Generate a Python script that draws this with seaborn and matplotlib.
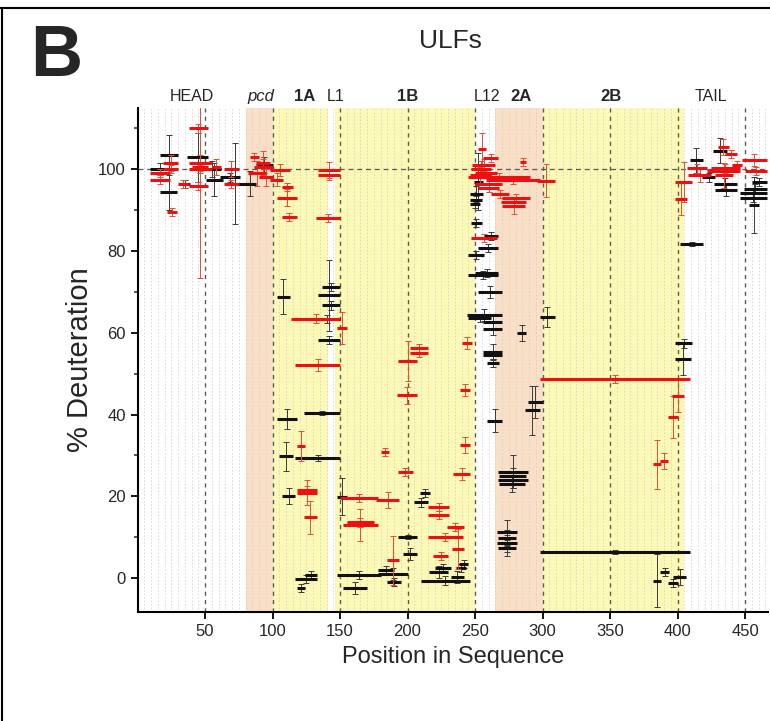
import matplotlib
matplotlib.use("Agg")
import matplotlib.pyplot as plt
from matplotlib.lines import Line2D
from matplotlib.ticker import MultipleLocator
import matplotlib.transforms as mtransforms
import numpy as np
import pandas as pd
import seaborn as sns

# ---------------- data ----------------
# black peptides: start, end, % deuteration, error
black_start = [9, 17, 17, 31, 37, 48, 51, 61, 65, 78, 88,
               103, 137, 134, 137, 130, 134, 123, 103, 105, 117, 107, 148,
               193, 197, 117, 124, 118, 148, 152, 178, 185, 178,
               209, 205, 210, 216, 232, 236, 238, 220,
               246, 246, 246, 247, 257, 252, 245, 250, 245, 252, 244, 245, 256, 256,
               281, 298, 256, 256, 259, 289, 287, 259, 249,
               267, 268, 267, 268, 266, 267, 266, 267,
               298, 398, 398, 382, 387, 393, 397,
               402, 409, 426, 427, 428, 418, 446, 449, 446, 453, 455]
black_end = [24, 30, 29, 39, 52, 62, 63, 76, 79, 88, 100,
             113, 150, 150, 150, 150, 150, 150, 118, 115, 150, 117, 155,
             207, 207, 133, 133, 124, 180, 170, 200, 195, 190,
             217, 215, 246, 230, 242, 243, 245, 232,
             256, 255, 254, 255, 267, 267, 257, 267, 267, 270, 270, 262, 270, 270,
             288, 309, 270, 270, 268, 300, 298, 270, 256,
             289, 288, 289, 287, 281, 280, 281, 280,
             409, 411, 410, 388, 394, 400, 406,
             419, 419, 437, 444, 444, 428, 466, 466, 466, 460, 466]
black_val = [100, 103.5, 94.5, 96.5, 103, 100, 97.5, 98, 96.5, 96.5, 101,
             68.8, 71.2, 69.2, 66.7, 63.3, 58.2, 40.4, 38.9, 29.8, 29.4, 20, 19.9,
             10, 5.8, -0.3, 0.7, -2.4, 0.7, -2.4, 1, -1, 2,
             20.9, 18.5, -0.6, 1.4, 0.2, 2.5, 3.4, 2.5,
             94, 92.5, 91.5, 86.8, 83.6, 80.7, 79, 74.6, 74.1, 70, 64.3, 63.6, 62.7, 61,
             60, 63.9, 55.3, 54.5, 52.6, 43.1, 41.1, 38.5, 97,
             26, 25, 24, 23, 11.2, 9.8, 8.5, 7.3,
             6.4, 57.4, 53.7, -0.6, 1.5, -1.2, 0.2,
             81.8, 102.2, 104.6, 96.3, 94.9, 98, 94.1, 95.3, 92.9, 91.2, 96.9]
black_err = [1.5, 5, 4.5, 1, 6, 2, 4, 1, 10, 3, 2,
             4.3, 1, 8.7, 1, 1, 1, 0.5, 2.5, 3.5, 0.8, 2, 4.5,
             0.5, 1.5, 1, 1, 1, 1, 1.5, 1.5, 1, 1,
             1, 1, 1, 1.5, 1.5, 1, 1, 1,
             2, 1, 1, 1, 1, 1, 1, 1, 1, 1.5, 1.5, 1, 1.5, 1.5,
             2, 2.5, 2, 1, 1, 4, 6, 2.8, 7,
             4, 2, 2, 2, 3, 2, 2, 2,
             0.5, 1, 4, 6.5, 1, 1, 2,
             0.5, 3, 3, 1.5, 1.5, 1, 1, 1, 1, 6.8, 1]

# red peptides: start, end, % deuteration, error
red_start = [9, 9, 19, 19, 22, 30, 38, 40, 38, 38, 38, 55, 64, 64,
             83, 82, 86, 90, 88, 98, 98, 107, 103, 107, 134, 134, 132,
             114, 148, 117, 193, 202, 202, 192, 118, 180, 193, 118, 118, 123,
             150, 177, 152, 155, 185, 239, 234, 215, 215, 229, 215, 233, 219, 240, 239,
             247, 248, 250, 246, 250, 252, 252, 256, 283, 245, 258, 296, 270, 269, 270,
             262, 247, 298,
             396, 393, 382, 387,
             398, 398, 407, 408, 422, 425, 428, 430, 435, 448, 450, 440]
red_end = [24, 24, 30, 30, 29, 38, 52, 52, 55, 55, 52, 62, 75, 75,
           90, 95, 100, 100, 98, 113, 108, 115, 118, 118, 150, 150, 150,
           150, 155, 150, 207, 215, 215, 207, 124, 186, 204, 133, 133, 133,
           178, 194, 178, 175, 194, 246, 246, 231, 231, 242, 241, 242, 230, 248, 246,
           262, 265, 266, 262, 270, 268, 258, 267, 288, 291, 298, 309, 291, 288, 287,
           275, 266, 409,
           405, 400, 388, 393,
           411, 407, 422, 425, 446, 446, 441, 438, 444, 466, 466, 448]
red_val = [97.5, 99, 101.5, 100, 89.5, 96.5, 110, 100.5, 101.5, 100, 96, 100.5, 100, 96.5,
           103, 99, 100.5, 98, 101.5, 99.9, 97.5, 95.7, 93.1, 88.3, 99.9, 98.5, 88,
           63.5, 61.2, 52.1, 53.1, 56.2, 55, 44.7, 32.3, 30.9, 26, 20.9, 21.5, 14.9,
           19.6, 19.1, 13, 13.6, 4.4, 32.5, 25.4, 17.4, 15.4, 12.5, 10.1, 7.1, 5.4, 57.5, 46,
           100, 101, 99, 98.5, 96.5, 95.5, 105, 102.7, 101.8, 98.1, 97.3, 97.2, 93, 92, 91,
           94, 83.1, 48.8,
           44.6, 39.4, 27.9, 28.7,
           96.9, 92.8, 100.2, 98.5, 99.5, 100.2, 98.5, 105.5, 103.7, 102.2, 99.6, 101]
red_err = [1, 1, 2, 1, 1, 1, 1, 27, 2, 1, 1, 2, 2, 1,
           1, 3, 2, 2, 3, 1.5, 1.5, 1, 2, 1, 2, 1, 1,
           1, 4, 1.5, 5, 1, 1, 2, 3.7, 1, 1, 3, 1, 4,
           1, 2, 4, 1, 6, 2, 1.5, 1, 1, 1, 1, 5, 1, 1.5, 1.5,
           2, 1.5, 1, 2, 2, 1, 4, 1, 1, 1, 1, 4, 1, 1, 2,
           1, 1, 1,
           4, 5.2, 6, 2,
           4.9, 4, 1, 1.5, 1, 1, 3, 2, 1, 1.5, 1, 1]

regions = ["HEAD", "pcd", "1A", "L1", "1B", "L12", "2A", "2B", "TAIL"]
region_pos = [40, 91, 124, 147, 200, 259, 284, 351, 425]
shade_start = [80, 100, 146, 265, 300]
shade_end = [100, 141, 250, 300, 405]
shade_kind = ["peach", "yellow", "yellow", "peach", "yellow"]

# ---------------- style ----------------
sns.set_style("ticks")
plt.rcParams["font.family"] = ["Liberation Sans", "DejaVu Sans"]

W, H = 770, 721
fig = plt.figure(figsize=(W / 100, H / 100), dpi=100)
ax = fig.add_axes([137.5 / W, 1 - 612 / H, (768 - 137.5) / W, (612 - 108) / H])

colors = {"peach": "#f9dfc6", "yellow": "#fcf8b6"}
for s, e, k in zip(shade_start, shade_end, shade_kind):
    ax.axvspan(s, e, color=colors[k], lw=0, zorder=0)

for x in range(5, 466, 5):
    if x % 50:
        ax.axvline(x, color="#cfcfcf", ls=(0, (2, 2.5)), lw=0.55, zorder=0.5)
    else:
        ax.axvline(x, color="#5a5a5a", ls=(0, (3, 3)), lw=1.0, zorder=0.6)
ax.axhline(100, color="#5a5a5a", ls=(0, (4, 3)), lw=0.9, zorder=0.6)

black = pd.DataFrame(dict(start=black_start, end=black_end, val=black_val, err=black_err))
red = pd.DataFrame(dict(start=red_start, end=red_end, val=red_val, err=red_err))

for df, col, ecol, z in [(black, "#111111", "#3a3a3a", 3), (red, "#ee1010", "#ee4a30", 4)]:
    mid = (df["start"] + df["end"]) / 2
    ax.errorbar(mid, df["val"], yerr=df["err"], fmt="none", ecolor=ecol,
                elinewidth=0.7, capsize=2, capthick=0.7, zorder=z)
    ax.hlines(df["val"], df["start"], df["end"], colors=col, lw=2.2, zorder=z + 0.5)

ax.set_xlim(0, 467)
ax.set_ylim(-8.3, 115)
ax.set_xticks(range(50, 451, 50))
ax.set_yticks(range(0, 101, 20))
ax.yaxis.set_minor_locator(MultipleLocator(10))
ax.tick_params(axis="both", which="major", direction="out", length=5, width=1.3,
               labelsize=12, color="black")
ax.tick_params(axis="y", which="minor", direction="out", length=3, width=1.1)
sns.despine(ax=ax)
for sp in ["left", "bottom"]:
    ax.spines[sp].set_linewidth(1.5)
    ax.spines[sp].set_color("black")

ax.set_xlabel("Position in Sequence", fontsize=17, labelpad=5)
ax.set_ylabel("% Deuteration", fontsize=21, labelpad=3)

trans = mtransforms.blended_transform_factory(ax.transData, ax.transAxes)
for name, xp in zip(regions, region_pos):
    kw = {}
    if name == "pcd":
        kw["style"] = "italic"
        fs = 12
    elif name in ("1A", "1B", "2A", "2B"):
        kw["weight"] = "bold"
        fs = 12
    else:
        fs = 11.5
    ax.text(xp, 1.022, name, transform=trans, ha="center", va="center", fontsize=fs, **kw)

fig.text(450 / W, 1 - 41 / H, "ULFs", fontsize=19, ha="center", va="center")
fig.text(56 / W, 1 - 57 / H, "B", fontsize=52, weight="bold", ha="center", va="center")

fig.add_artist(Line2D([0, 1], [1 - 8 / H, 1 - 8 / H], color="black", lw=1.5, transform=fig.transFigure))
fig.add_artist(Line2D([1.5 / W, 1.5 / W], [0, 1 - 8 / H], color="black", lw=1.5, transform=fig.transFigure))

fig.savefig("out.png", dpi=100)
